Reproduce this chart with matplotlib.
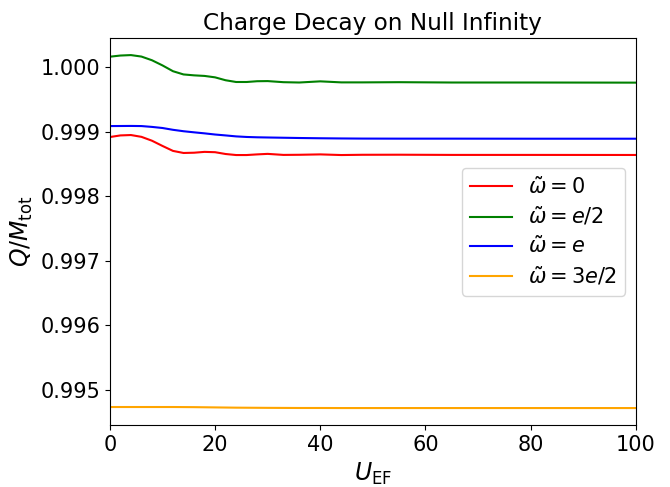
import numpy as np
import matplotlib.pyplot as plt

# retarded time (Eddington-Finkelstein) at which the charge is sampled
u_ef = [0, 2, 4, 6, 8, 10, 12, 14, 16, 18, 20, 22, 24, 26, 28, 30, 33, 36, 40, 44, 48, 55, 65, 80, 100]

q_w0 = [0.998915, 0.998940, 0.998946, 0.998918, 0.998858, 0.998777, 0.998700, 0.998668, 0.998672,
        0.998685, 0.998680, 0.998652, 0.998636, 0.998636, 0.998646, 0.998654, 0.998638, 0.998640,
        0.998646, 0.998636, 0.998640, 0.998641, 0.998638, 0.998638, 0.998637]
q_w_half = [1.000160, 1.000178, 1.000185, 1.000162, 1.000105, 1.000025, 0.999935, 0.999885, 0.999871,
            0.999862, 0.999840, 0.999795, 0.999768, 0.999768, 0.999780, 0.999782, 0.999765, 0.999760,
            0.999778, 0.999762, 0.999762, 0.999765, 0.999760, 0.999760, 0.999758]
q_w1 = [0.999085, 0.999086, 0.999087, 0.999085, 0.999072, 0.999055, 0.999027, 0.999005, 0.998988,
        0.998972, 0.998954, 0.998940, 0.998925, 0.998916, 0.998911, 0.998908, 0.998904, 0.998900,
        0.998896, 0.998893, 0.998891, 0.998890, 0.998890, 0.998889, 0.998889]
q_w3half = [0.994731, 0.994731, 0.994731, 0.994731, 0.994731, 0.994731, 0.994731, 0.994730, 0.994729,
            0.994727, 0.994725, 0.994723, 0.994721, 0.994720, 0.994719, 0.994718, 0.994717, 0.994716,
            0.994716, 0.994715, 0.994715, 0.994715, 0.994715, 0.994715, 0.994715]

labels = [r'$\tilde{\omega} = 0$', r'$\tilde{\omega} = e/2$',
          r'$\tilde{\omega} = e$', r'$\tilde{\omega} = 3e/2$']
colors = ['red', 'green', 'blue', 'orange']

fig = plt.figure(figsize=(6.7, 4.87), dpi=100)
ax = fig.add_axes([0.164, 0.127, 0.785, 0.795])

for q, lab, c in zip([q_w0, q_w_half, q_w1, q_w3half], labels, colors):
    ax.plot(u_ef, q, color=c, lw=1.5, label=lab)

ax.set_xlim(0, 100)
ax.set_ylim(0.99445, 1.00045)
ax.set_yticks([0.995, 0.996, 0.997, 0.998, 0.999, 1.000])
ax.tick_params(labelsize=15)
ax.set_xlabel(r'$U_{\rm EF}$', fontsize=17)
ax.set_ylabel(r'$Q/M_{\rm tot}$', fontsize=17)
ax.set_title('Charge Decay on Null Infinity', fontsize=16.7)
ax.legend(loc='center right', fontsize=15, labelspacing=0.35)

fig.savefig('out.png', dpi=100)
